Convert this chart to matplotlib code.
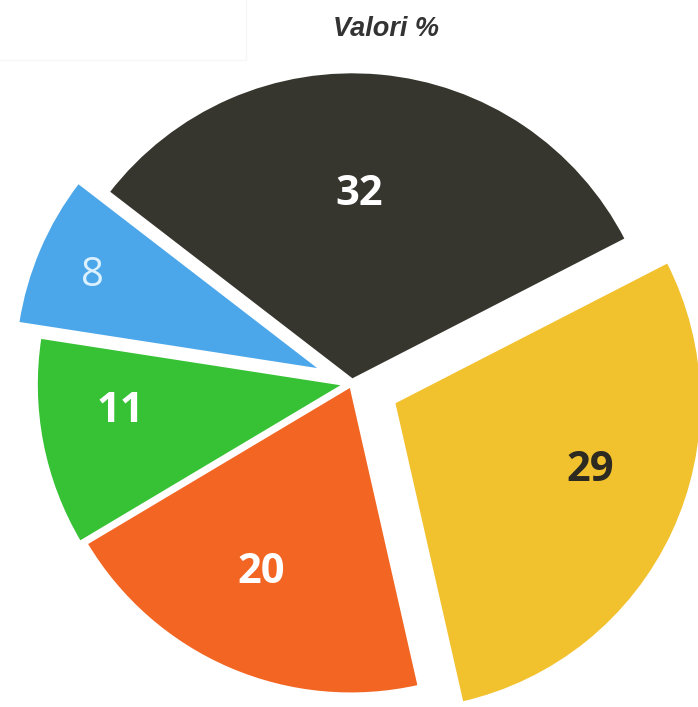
import numpy as np
import matplotlib
matplotlib.use("Agg")
import matplotlib.pyplot as plt
from matplotlib.patches import Rectangle

# slice values (percent), in clockwise order starting from the yellow slice
values = [29, 20, 11, 8, 32]
labels = ['29', '20', '11', '8', '32']
colors = ['#f1c12e', '#f26522', '#37c235', '#4ba7ea', '#36362e']
label_colors = ['#2d2a22', 'white', 'white', '#dcf1ff', 'white']
label_weights = ['bold', 'bold', 'bold', 'normal', 'bold']
title = 'Valori %'

# layout
radius = 308
explode = [0.15, 0.01, 0.025, 0.105, 0.01]   # fraction of radius
label_dist = [0.67, 0.66, 0.73, 0.81, 0.615]
label_shift = [7, -3, -5, 0, 3]   # degrees

fig = plt.figure(figsize=(6.98, 7.07), dpi=100)
ax = fig.add_axes([0, 0, 1, 1])

# faint box left over in the top-left corner
ax.add_patch(Rectangle((-2, 647), 248, 64, fill=False, edgecolor='#f6f6f6', lw=1))

wedges, _ = ax.pie(values, colors=colors, explode=[e * radius for e in explode],
                   startangle=27.2, counterclock=False, center=(352, 324),
                   radius=radius, wedgeprops=dict(edgecolor='white', linewidth=2),
                   frame=True)
ax.set_xlim(0, 698)
ax.set_ylim(0, 707)
ax.set_aspect('equal')
ax.axis('off')

for w, lab, c, fw, d, s in zip(wedges, labels, label_colors, label_weights,
                               label_dist, label_shift):
    ang = np.deg2rad((w.theta1 + w.theta2) / 2 + s)
    cx, cy = w.center
    x = cx + d * w.r * np.cos(ang)
    y = cy + d * w.r * np.sin(ang) - 4
    ax.text(x, y, lab, color=c, fontsize=30 if fw == 'bold' else 29,
            fontweight=fw, family='Open Sans', ha='center', va='center')

ax.text(386, 678, title, fontsize=19.5, fontweight='bold', fontstyle='italic',
        family='Liberation Sans', color='#333333', ha='center', va='center')

fig.savefig('out.png', dpi=100)
